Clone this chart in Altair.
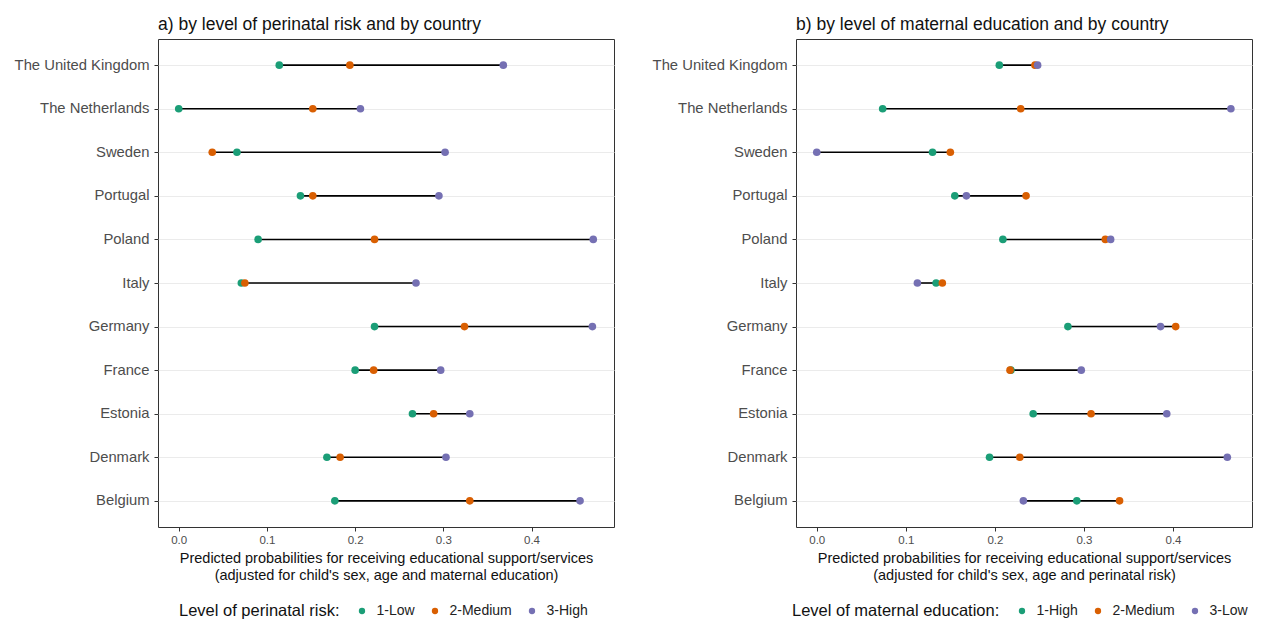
import altair as alt
import pandas as pd

countries = ["The United Kingdom", "The Netherlands", "Sweden", "Portugal", "Poland",
             "Italy", "Germany", "France", "Estonia", "Denmark", "Belgium"]

# Panel a) perinatal risk
risk_levels = ["1-Low", "2-Medium", "3-High"]
risk_low = [0.114, 0.000, 0.066, 0.138, 0.090, 0.071, 0.222, 0.200, 0.265, 0.168, 0.177]
risk_med = [0.194, 0.152, 0.038, 0.152, 0.222, 0.075, 0.324, 0.221, 0.289, 0.183, 0.330]
risk_high = [0.368, 0.206, 0.302, 0.295, 0.470, 0.269, 0.469, 0.297, 0.330, 0.303, 0.455]

# Panel b) maternal education
edu_levels = ["1-High", "2-Medium", "3-Low"]
edu_high = [0.205, 0.074, 0.130, 0.155, 0.209, 0.134, 0.282, 0.218, 0.243, 0.194, 0.292]
edu_med = [0.245, 0.229, 0.150, 0.235, 0.324, 0.141, 0.403, 0.217, 0.308, 0.228, 0.340]
edu_low = [0.248, 0.465, 0.000, 0.168, 0.330, 0.113, 0.386, 0.297, 0.393, 0.461, 0.232]

tick_values = [0.0, 0.1, 0.2, 0.3, 0.4]
colors = ["#1B9E77", "#D95F02", "#7570B3"]

FONT = "Liberation Sans"
W, H = 456, 488


def long_df(levels, series):
    rows = []
    for lvl, vals in zip(levels, series):
        for c, v in zip(countries, vals):
            rows.append({"country": c, "level": lvl, "value": v})
    return pd.DataFrame(rows)


def range_df(series):
    rows = []
    for i, c in enumerate(countries):
        vs = [s[i] for s in series]
        rows.append({"country": c, "lo": min(vs), "hi": max(vs)})
    return pd.DataFrame(rows)


def panel(title, levels, series, legend_title, xtitle, domain, legend_x):
    pts = long_df(levels, series)
    rng = range_df(series)
    y_enc = alt.Y("country:N", sort=countries, title=None,
                  scale=alt.Scale(type="point", padding=0.6),
                  axis=alt.Axis(labelFontSize=14.8, labelColor="#4d4d4d", labelFont=FONT,
                                tickSize=4, tickColor="#333333", labelPadding=5,
                                domain=False, grid=True, gridColor="#ebebeb", gridWidth=1,
                                minExtent=144, maxExtent=144))
    x_scale = alt.Scale(domain=domain, nice=False, zero=False)
    x_axis = alt.Axis(values=tick_values, format=".1f", labelFontSize=11.5,
                      labelColor="#4d4d4d", labelFont=FONT, tickSize=4, tickColor="#333333",
                      labelPadding=3, domain=False, grid=False,
                      titleFontSize=14.5, titleFont=FONT, titleFontWeight="normal",
                      titleColor="#111111", titlePadding=6, titleLineHeight=17)
    rule = alt.Chart(rng).mark_rule(color="black", strokeWidth=1.6).encode(
        y=y_enc,
        x=alt.X("lo:Q", scale=x_scale, axis=x_axis, title=xtitle),
        x2="hi:Q",
    )
    points = alt.Chart(pts).mark_circle(size=58, opacity=1).encode(
        y=alt.Y("country:N", sort=countries),
        x=alt.X("value:Q", scale=x_scale),
        color=alt.Color("level:N",
                        scale=alt.Scale(domain=levels, range=colors),
                        legend=alt.Legend(title=legend_title, orient="none",
                                          legendX=legend_x, legendY=565,
                                          direction="horizontal", titleOrient="left",
                                          titleFontSize=16.5, titleFont=FONT,
                                          titleFontWeight="normal", titleColor="#111111",
                                          titleLimit=400, labelLimit=200,
                                          labelFontSize=14, labelFont=FONT,
                                          labelColor="#222222", symbolType="circle",
                                          symbolSize=40, symbolStrokeWidth=0,
                                          labelOffset=7.5, columnPadding=13,
                                          titlePadding=15)),
    )
    return alt.layer(rule, points).properties(
        width=W, height=H,
        view=alt.ViewBackground(stroke="#333333", strokeWidth=1, fill="white"),
        title=alt.TitleParams(title, anchor="start", frame="group", fontSize=17.5,
                              fontWeight="normal", font=FONT, color="#111111", offset=6),
    )


left = panel("a) by level of perinatal risk and by country", risk_levels,
             [risk_low, risk_med, risk_high], "Level of perinatal risk:",
             ["Predicted probabilities for receiving educational support/services",
              "(adjusted for child's sex, age and maternal education)"],
             [-0.0235, 0.4935], 21)
right = panel("b) by level of maternal education and by country", edu_levels,
              [edu_high, edu_med, edu_low], "Level of maternal education:",
              ["Predicted probabilities for receiving educational support/services",
               "(adjusted for child's sex, age and perinatal risk)"],
              [-0.0233, 0.4887], -4)

chart = alt.hconcat(left, right, spacing=36).resolve_scale(
    color="independent").resolve_legend(color="independent").properties(
    padding={"left": 5, "top": 7, "right": 0, "bottom": 0}).configure_view(
    stroke="#333333", strokeWidth=1).configure(font=FONT, background="white")

chart.save("out.html", embed_options={"renderer": "svg", "actions": False})
